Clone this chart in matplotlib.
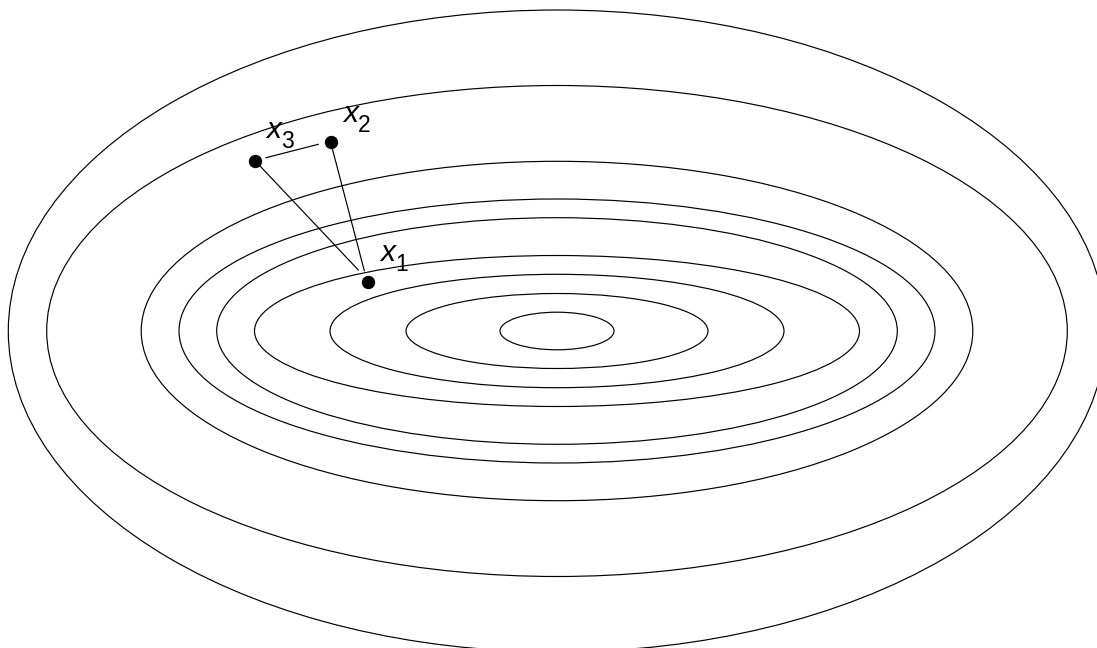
import matplotlib
matplotlib.use("Agg")
import matplotlib.pyplot as plt
from matplotlib.patches import Ellipse

# level sets of the objective, inner to outer (canvas pixel units)
center = (557, 331)
semi_major = [57, 151, 227, 302.5, 340.3, 378, 415.8, 510.3, 548.7]
semi_minor = [18.8, 37.5, 56.7, 75.5, 113.3, 132, 169.7, 245.5, 321]

# iterates and their labels
point_index = ["1", "2", "3"]
point_x = [367.7, 330.5, 255.0]
point_y = [281.7, 141.7, 160.7]
label_x = [380, 343, 266]
label_y = [261, 121.5, 138]

# segments drawn between the iterates
seg_x0 = [255.0, 330.5, 266.0]
seg_y0 = [160.7, 141.7, 157.7]
seg_x1 = [358.3, 364.3, 318.3]
seg_y1 = [270.0, 270.7, 144.3]

fig = plt.figure(figsize=(10.97, 6.48), dpi=100)
ax = fig.add_axes([0, 0, 1, 1])
ax.set_xlim(0, 1097)
ax.set_ylim(648, 0)
ax.axis("off")

for a, b in zip(semi_major, semi_minor):
    ax.add_patch(Ellipse(center, 2 * a, 2 * b, fill=False,
                         edgecolor="black", linewidth=0.85))

for x0, y0, x1, y1 in zip(seg_x0, seg_y0, seg_x1, seg_y1):
    ax.plot([x0, x1], [y0, y1], color="black", linewidth=0.85)

ax.plot(point_x, point_y, "o", color="black", markersize=8.6, zorder=5)

# italic x with a lowered index, set by hand
for idx, lx, ly in zip(point_index, label_x, label_y):
    ax.text(lx, ly, "x", fontsize=21.5, family="Liberation Sans",
            style="italic", ha="left", va="baseline")
    ax.text(lx + 15, ly + 10, idx, fontsize=16.5, family="Liberation Sans",
            ha="left", va="baseline")

fig.savefig("out.png", dpi=100)
